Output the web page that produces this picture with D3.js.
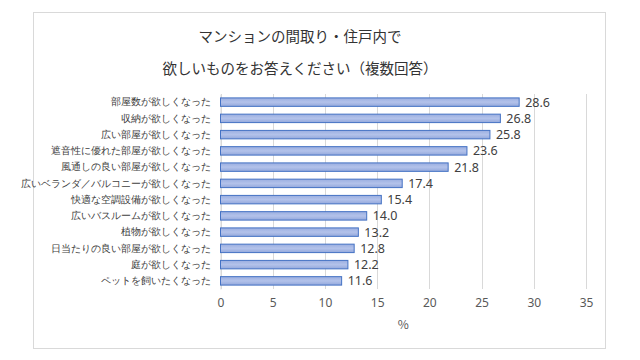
<!DOCTYPE html>
<html><head><meta charset="utf-8">
<script src="https://cdn.jsdelivr.net/npm/d3@7"></script>
<style>body{margin:0;background:#fff;}svg{display:block;font-family:"Noto Sans CJK JP","Noto Sans",sans-serif;}</style>
</head><body><svg id="c" width="640" height="360"></svg>
<script>
const categories = ["部屋数が欲しくなった","収納が欲しくなった","広い部屋が欲しくなった","遮音性に優れた部屋が欲しくなった","風通しの良い部屋が欲しくなった","広いベランダ／バルコニーが欲しくなった","快適な空調設備が欲しくなった","広いバスルームが欲しくなった","植物が欲しくなった","日当たりの良い部屋が欲しくなった","庭が欲しくなった","ペットを飼いたくなった"];
const values = [28.6,26.8,25.8,23.6,21.8,17.4,15.4,14.0,13.2,12.8,12.2,11.6];
const xTicks = [0,5,10,15,20,25,30,35];
const titleLines = ["マンションの間取り・住戸内で","欲しいものをお答えください（複数回答）"];
const xLabel = "%";

const svg = d3.select("#c");
svg.append("rect").attr("x",33.5).attr("y",12.5).attr("width",572).attr("height",336)
  .attr("fill","#fff").attr("stroke","#d9d9d9");

const defs = svg.append("defs");
const g1 = defs.append("linearGradient").attr("id","bg").attr("x1",0).attr("y1",0).attr("x2",0).attr("y2",1);
g1.append("stop").attr("offset","0%").attr("stop-color","#9aaee0");
g1.append("stop").attr("offset","50%").attr("stop-color","#b3c2ea");
g1.append("stop").attr("offset","100%").attr("stop-color","#93a8dc");

const x = d3.scaleLinear().domain([0,35]).range([220.5,586]);
const y = d3.scaleBand().domain(categories).range([94,289]).paddingInner(0.48).paddingOuter(0.24);

// gridlines
svg.append("g").selectAll("line").data(xTicks).join("line")
  .attr("x1",d=>Math.round(x(d))+0.5).attr("x2",d=>Math.round(x(d))+0.5)
  .attr("y1",94).attr("y2",289).attr("stroke","#d9d9d9").attr("stroke-width",1);

// x axis tick labels
const xa = svg.append("g").attr("transform","translate(0,289)")
  .call(d3.axisBottom(x).tickValues(xTicks).tickSize(0).tickPadding(9).tickFormat(d3.format("d")));
xa.select(".domain").remove();
xa.selectAll("text").attr("fill","#595959").attr("font-size",12).style("font-family","'Noto Sans','Noto Sans CJK JP',sans-serif");

// y axis
const ya = svg.append("g").attr("transform","translate(220.5,0)")
  .call(d3.axisLeft(y).tickSize(0).tickPadding(10));
ya.select(".domain").attr("stroke","#d9d9d9");
ya.selectAll("text").attr("fill","#404040").attr("font-size",10.4);

// bars
svg.append("g").selectAll("rect").data(values).join("rect")
  .attr("x",x(0)).attr("y",(d,i)=>y(categories[i]))
  .attr("width",d=>x(d)-x(0)).attr("height",y.bandwidth())
  .attr("fill","url(#bg)").attr("stroke","#4472c4").attr("stroke-width",1);

// value labels
svg.append("g").selectAll("text").data(values).join("text")
  .attr("x",d=>x(d)+6).attr("y",(d,i)=>y(categories[i])+y.bandwidth()/2)
  .attr("dy","0.36em").attr("fill","#404040").attr("font-size",12.5)
  .style("font-family","'Noto Sans','Noto Sans CJK JP',sans-serif")
  .text(d=>d.toFixed(1));

// x label
svg.append("text").attr("x",x(17.5)).attr("y",329).attr("text-anchor","middle")
  .attr("fill","#595959").attr("font-size",12).text(xLabel);

// title
svg.append("g").selectAll("text").data(titleLines).join("text")
  .attr("x",300).attr("y",(d,i)=>42+i*32).attr("text-anchor","middle")
  .attr("fill","#333333").attr("font-size",14.5).text(d=>d);
</script></body></html>
